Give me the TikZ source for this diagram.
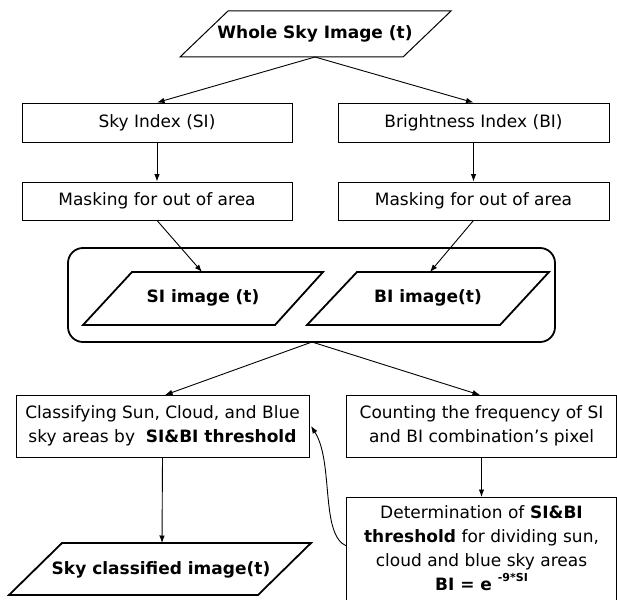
\documentclass[tikz,border=0pt]{standalone}
\usepackage{fontspec}
\setmainfont{DejaVu Sans}
\usetikzlibrary{arrows.meta}
\begin{document}
\begin{tikzpicture}[x=1pt,y=-1pt,
  every node/.style={font=\fontsize{17}{24}\selectfont},
  boxnode/.style={draw, line width=0.9pt, minimum height=39pt, inner sep=0pt, align=center},
  txt/.style={inner sep=0pt, align=center},
  para/.style={draw, line width=1.8pt, line join=miter},
  thinpara/.style={draw, line width=1pt},
  arr/.style={-{Latex[length=7.5pt,width=5.5pt]}, line width=0.9pt},
  boldtxt/.style={font=\fontsize{17}{24}\selectfont\bfseries}
]
\useasboundingbox (0,0) rectangle (617,599);

% top input
\draw[thinpara] (180,57) -- (403,57) -- (451,11) -- (228,11) -- cycle;
\node[txt, boldtxt] (whole) at (315,34) {Whole Sky Image (t)};
\coordinate (wholeB) at (315,57);

% index boxes
\node[boxnode, minimum width=270pt] (si) at (157,122.5) {Sky Index (SI)};
\node[boxnode, minimum width=271pt] (bi) at (473.5,122.5) {Brightness Index (BI)};
\node[boxnode, minimum width=270pt, minimum height=38pt] (msi) at (157,201) {Masking for out of area};
\node[boxnode, minimum width=271pt, minimum height=38pt] (mbi) at (473.5,201) {Masking for out of area};

% container
\draw[line width=1.8pt, rounded corners=15pt] (68,248) rectangle (555,342);
\coordinate (contB) at (312,342);

% SI / BI image parallelograms
\draw[para] (83,325) -- (275,325) -- (323,272) -- (132,272) -- cycle;
\node[txt, boldtxt] (siimg) at (203,298) {SI image (t)};
\coordinate (siT) at (202,272);
\draw[para] (307,325) -- (500,325) -- (549,272) -- (357,272) -- cycle;
\node[txt, boldtxt] (biimg) at (428,298) {BI image(t)};
\coordinate (biT) at (430,272);

% lower boxes
\node[boxnode, minimum width=293pt, minimum height=62pt] (cls) at (162.5,426)
  {Classifying Sun, Cloud, and Blue\\sky areas by\ \ \textbf{SI\&BI threshold}};
\node[boxnode, minimum width=270pt, minimum height=62pt] (cnt) at (481.5,426)
  {Counting the frequency of SI\\and BI combination’s pixel};
\draw[line width=0.9pt] (346.5,612) -- (346.5,497) -- (616.5,497) -- (616.5,612);
\node[txt] (det) at (481.5,548)
  {Determination of \textbf{SI\&BI}\\\textbf{threshold} for dividing sun,\\cloud and blue sky areas\\\textbf{BI = e \raisebox{1.0ex}{\fontsize{11}{11}\selectfont -9*SI}}};
\coordinate (detT) at (481.5,497);
\coordinate (detL) at (346.5,546);

% output
\draw[para] (9,595) -- (258,595) -- (311,543) -- (62,543) -- cycle;
\node[txt, boldtxt] (sky) at (161,570) {Sky classified image(t)};
\coordinate (skyT) at (162,543);

% connectors
\draw[arr] (wholeB) -- (si.north);
\draw[arr] (wholeB) -- (bi.north);
\draw[arr] (si) -- (msi);
\draw[arr] (bi) -- (mbi);
\draw[arr] (msi.south) -- (siT);
\draw[arr] (mbi.south) -- (biT);
\draw[arr] (contB) -- (165,395) coordinate (clsT);
\draw[arr] (contB) -- (480,395) coordinate (cntT);
\draw[arr] (cnt.south) -- (detT);
\draw[arr] (cls.south) -- (skyT);
\draw[arr] (detL) .. controls (320,535) and (334,462) .. (311,426);
\end{tikzpicture}
\end{document}
